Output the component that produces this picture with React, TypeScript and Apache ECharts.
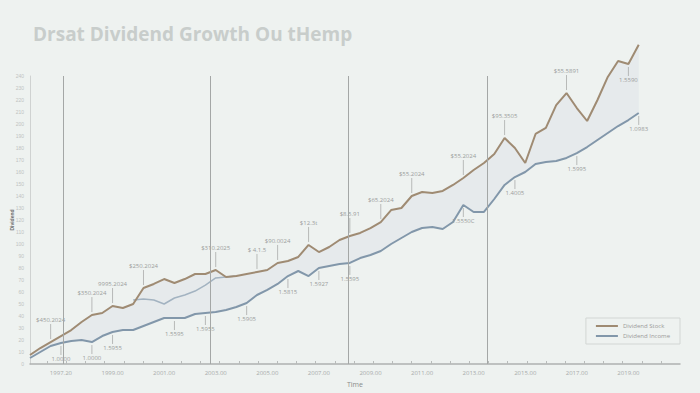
import React, { useEffect, useRef } from "react";
import * as echarts from "echarts";

const titleText = "Drsat Dividend Growth Ou tHemp";
const xTickLabels = ["1997.20", "1999.00", "2001.00", "2003.00", "2005.00", "2007.00", "2009.00", "2011.00", "2013.00", "2015.00", "2017.00", "2019.00"];
const seriesNames = ["Dividend Stock", "Dividend Income"];

const brownValues = [
  7.5, 13.3, 18.3, 23.3, 28.3, 35, 40.8, 42.5, 48.3, 46.7,
  50, 63.3, 66.7, 70.8, 67.5, 70.8, 75, 75, 78.3, 72.5,
  73.3, 75, 76.7, 78.3, 84.2, 85.8, 89.2, 99.2, 93.3, 97.5,
  103.3, 106.7, 109.2, 113.3, 118.3, 128.3, 130, 140, 143.3, 142.5,
  144.2, 149.2, 155, 161.7, 167.5, 175, 188.3, 180, 167.5, 191.7,
  196.7, 215.8, 225.8, 213.3, 202.5, 220, 239.2, 252.5, 250, 266,
];
const blueValues = [
  5, 10, 15, 17.5, 19.2, 20, 18.3, 23.3, 26.7, 28.3,
  28.3, 31.7, 35, 38.3, 38.3, 38.3, 41.7, 42.5, 43.3, 45,
  47.5, 50.8, 57.5, 61.7, 66.7, 73.3, 77.5, 73.3, 80, 81.7,
  83.3, 84.2, 88.3, 90.8, 94.2, 100, 105, 110, 113.3, 114.2,
  112.5, 118.3, 132.5, 126.7, 126.7, 137.5, 149.2, 155.8, 160, 166.7,
  168.3, 169.2, 171.7, 175.8, 180.8, 186.7, 192.5, 198.3, 203.3, 209.2,
];
// faint secondary band line (index, value)
const bandIndex = [10, 11, 12, 13, 14, 15, 16, 17, 18, 19, 20];
const bandValues = [53.3, 54.2, 53.3, 50, 55, 57.5, 60.8, 65.8, 71.7, 72.5, 73.3];

const markerX = [3.2, 17.45, 30.8, 44.3];

const brownNotes = [
  { i: 2, text: "$450.2024" }, { i: 6, text: "$350.2024" }, { i: 8, text: "9995.2024" },
  { i: 11, text: "$250.2024" }, { i: 18, text: "$310.2025" }, { i: 22, text: "$ 4.1.5" },
  { i: 24, text: "$90.0024" }, { i: 27, text: "$12.3t" }, { i: 31, text: "$8.5.91" },
  { i: 34, text: "$65.2024" }, { i: 37, text: "$55.2024" }, { i: 42, text: "$55.2024" },
  { i: 46, text: "$95.3505" }, { i: 52, text: "$55.5891" },
];
const brownLowNotes = [{ i: 58, text: "1.5590" }];
const blueNotes = [
  { i: 3, text: "1.0000" }, { i: 6, text: "1.0000" }, { i: 8, text: "1.5955" },
  { i: 14, text: "1.5595" }, { i: 17, text: "1.5955" }, { i: 21, text: "1.5905" },
  { i: 25, text: "1.5815" }, { i: 28, text: "1.5927" }, { i: 31, text: "1.5595" },
  { i: 42, text: "1.5550C" }, { i: 47, text: "1.4005" }, { i: 53, text: "1.5995" },
  { i: 59, text: "1.0983" },
];

const BROWN = "#9f8b73";
const BLUE = "#8297aa";

export default function App() {
  const ref = useRef<HTMLDivElement>(null);
  useEffect(() => {
    if (!ref.current) return;
    const chart = echarts.init(ref.current, null, { renderer: "svg" });
    const labelPos = xTickLabels.map((_, k) => 3 + k * 5);
    const tickPos = Array.from({ length: 34 }, (_, k) => 1.65 + k * 1.86).filter((v) => v < 63);

    const notes = [
      ...brownNotes.map((n) => ({ i: n.i, v: brownValues[n.i], dir: 1, text: n.text })),
      ...brownLowNotes.map((n) => ({ i: n.i, v: brownValues[n.i], dir: -1, text: n.text })),
      ...blueNotes.map((n) => ({ i: n.i, v: blueValues[n.i], dir: -1, text: n.text })),
    ];

    chart.setOption({
      animation: false,
      backgroundColor: "#eef2f0",
      title: {
        text: titleText,
        left: 28,
        top: 19,
        textStyle: { fontFamily: "Open Sans", fontWeight: "bold", fontSize: 19, color: "#c8cdcb" },
      },
      legend: {
        data: seriesNames,
        orient: "vertical",
        right: 20,
        top: 318,
        borderColor: "#d2d6d4",
        borderWidth: 1,
        padding: [5, 10],
        itemGap: 4,
        itemWidth: 22,
        itemHeight: 2,
        icon: "rect",
        textStyle: { fontSize: 6, color: "#9a9a9a", fontFamily: "Open Sans" },
      },
      grid: { left: 30, right: 20, top: 76, bottom: 29, containLabel: false, outerBoundsMode: "none" },
      xAxis: {
        type: "value",
        min: 0,
        max: 63,
        name: "Time",
        nameLocation: "middle",
        nameGap: 17,
        nameTextStyle: { fontSize: 7, color: "#8a8a8a", fontFamily: "Open Sans" },
        axisLine: { lineStyle: { color: "#aeb1b0", width: 1.5 } },
        axisTick: { show: true, inside: true, length: 3, customValues: tickPos, lineStyle: { color: "#b8bbba" } },
        axisLabel: {
          customValues: labelPos,
          formatter: (v: number) => {
            const k = Math.round((v - 3) / 5);
            return xTickLabels[k] ?? "";
          },
          fontSize: 6,
          color: "#a8abaa",
          margin: 6,
          fontFamily: "Open Sans",
        },
        splitLine: { show: false },
      },
      yAxis: {
        type: "value",
        min: 0,
        max: 240,
        interval: 10,
        name: "Dividend",
        nameLocation: "middle",
        nameGap: 16,
        nameMoveOverlap: false,
        nameTextStyle: { fontSize: 5, color: "#707070", fontWeight: "bold" },
        axisLine: { show: true, lineStyle: { color: "#cfd2d1" } },
        axisTick: { show: false },
        axisLabel: { fontSize: 5, color: "#c0c3c2", margin: 6 },
        splitLine: { show: false },
      },
      series: [
        {
          name: "fill",
          type: "custom",
          data: [[0]],
          silent: true,
          z: 1,
          renderItem: (params: any, api: any) => {
            const top = brownValues.map((v, i) => api.coord([i, v]));
            const bottom = blueValues.map((v, i) => api.coord([i, v])).reverse();
            return {
              type: "polygon",
              shape: { points: top.concat(bottom) },
              style: { fill: "rgba(214,221,230,0.35)", stroke: "none" },
            };
          },
        },
        {
          name: seriesNames[0],
          type: "line",
          data: brownValues.map((v, i) => [i, v]),
          symbol: "none",
          clip: false,
          itemStyle: { color: BROWN },
          lineStyle: { color: BROWN, width: 2 },
          z: 3,
          markLine: {
            silent: true,
            symbol: "none",
            label: { show: false },
            lineStyle: { color: "#a4a7a6", width: 1, type: "solid" },
            data: markerX.map((x) => ({ xAxis: x })),
          },
        },
        {
          name: seriesNames[1],
          type: "line",
          data: blueValues.map((v, i) => [i, v]),
          symbol: "none",
          clip: false,
          itemStyle: { color: BLUE },
          lineStyle: { color: BLUE, width: 2 },
          z: 3,
        },
        {
          name: "band",
          type: "line",
          data: bandValues.map((v, k) => [bandIndex[k], v]),
          symbol: "none",
          lineStyle: { color: "#a3b3c1", width: 1.5 },
          silent: true,
          z: 2,
        },
        {
          name: "notes",
          type: "custom",
          data: notes.map((n) => [n.i, n.v, n.dir]),
          silent: true,
          z: 4,
          renderItem: (params: any, api: any) => {
            const p = api.coord([api.value(0), api.value(1)]);
            const dir = api.value(2);
            const n = notes[params.dataIndex];
            const off = dir > 0 ? 18 : 12;
            return {
              type: "group",
              children: [
                {
                  type: "line",
                  shape: { x1: p[0], y1: p[1] - dir * 3, x2: p[0], y2: p[1] - dir * off },
                  style: { stroke: "#a9abaa", lineWidth: 0.8 },
                },
                {
                  type: "text",
                  style: {
                    text: n.text,
                    x: p[0],
                    y: p[1] - dir * (off + 1),
                    align: "center",
                    verticalAlign: dir > 0 ? "bottom" : "top",
                    font: "6px 'Open Sans'",
                    fill: "#9b9d9c",
                  },
                },
              ],
            };
          },
        },
      ],
    });
    return () => chart.dispose();
  }, []);
  return (
    <div
      ref={ref}
      style={{ position: "absolute", left: 0, top: 0, width: 700, height: 393 }}
    />
  );
}
